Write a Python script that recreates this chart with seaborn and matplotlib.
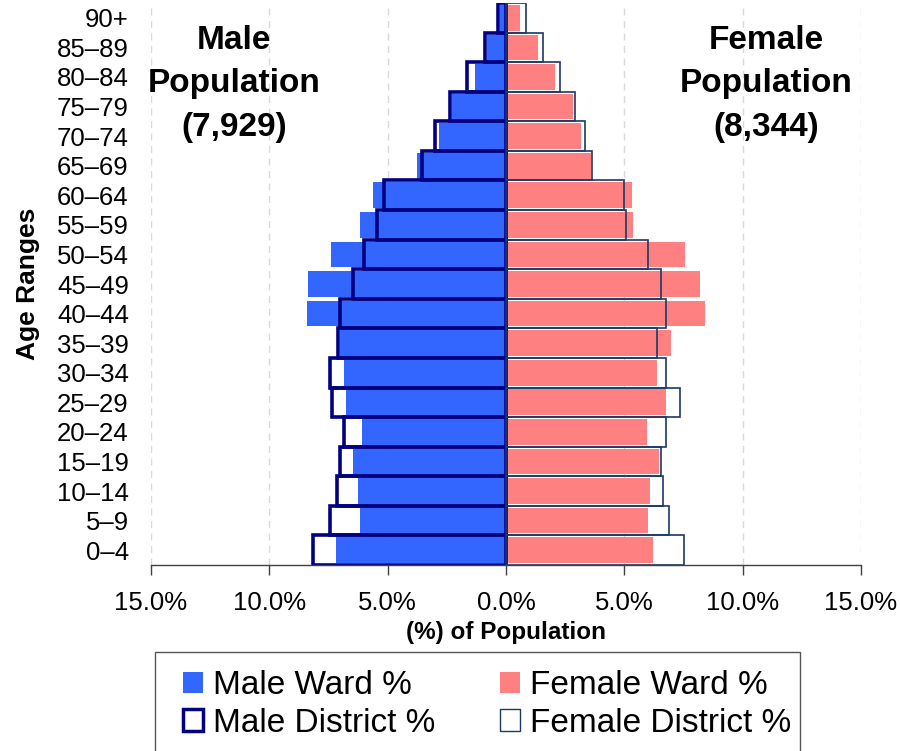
import numpy as np
import pandas as pd
import matplotlib
matplotlib.use('Agg')
import matplotlib.pyplot as plt
from matplotlib.patches import Patch, Rectangle
from matplotlib.ticker import FuncFormatter
import seaborn as sns

# age groups, youngest first
ages = ["0–4", "5–9", "10–14", "15–19", "20–24", "25–29", "30–34", "35–39",
        "40–44", "45–49", "50–54", "55–59", "60–64", "65–69", "70–74",
        "75–79", "80–84", "85–89", "90+"]

male_ward = [7.2, 6.15, 6.25, 6.45, 6.1, 6.75, 6.85, 7.0, 8.4, 8.35,
             7.4, 6.15, 5.6, 3.75, 2.85, 2.3, 1.3, 0.8, 0.25]
male_district = [8.15, 7.45, 7.15, 7.0, 6.85, 7.35, 7.45, 7.1, 7.0, 6.45,
                 6.0, 5.45, 5.15, 3.55, 3.0, 2.35, 1.65, 0.9, 0.35]
female_ward = [6.23, 6.02, 6.1, 6.48, 5.97, 6.78, 6.36, 6.99, 8.39, 8.18,
               7.58, 5.38, 5.34, 3.6, 3.18, 2.84, 2.08, 1.36, 0.59]
female_district = [7.5, 6.9, 6.65, 6.53, 6.74, 7.37, 6.74, 6.4, 6.78, 6.53,
                   6.02, 5.09, 5.0, 3.65, 3.35, 2.92, 2.29, 1.57, 0.85]

male_total = "7,929"
female_total = "8,344"
x_ticks = [-15, -10, -5, 0, 5, 10, 15]

df = pd.DataFrame({
    'age': ages,
    'male_ward': -np.array(male_ward),
    'male_district': -np.array(male_district),
    'female_ward': female_ward,
    'female_district': female_district,
})

sns.set_style('white')
plt.rcParams['font.family'] = ['Liberation Sans', 'DejaVu Sans']
plt.rcParams['text.color'] = 'black'
plt.rcParams['axes.labelcolor'] = 'black'
plt.rcParams['xtick.color'] = 'black'
plt.rcParams['ytick.color'] = 'black'

BLUE = '#3366FF'
PINK = '#FF8080'
NAVY = '#000080'
FEM_EDGE = '#1A3A66'

fig = plt.figure(figsize=(9, 7.51), dpi=100)
ax = fig.add_axes([151 / 900, 1 - 565 / 751, 710 / 900, 562 / 751])

order = ages[::-1]

# ward bars first, district outlines on top
sns.barplot(data=df, x='male_ward', y='age', order=order, orient='h',
            color=BLUE, saturation=1, width=0.87, errorbar=None,
            linewidth=0, ax=ax)
sns.barplot(data=df, x='female_ward', y='age', order=order, orient='h',
            color=PINK, saturation=1, width=0.87, errorbar=None,
            linewidth=0, ax=ax)
sns.barplot(data=df, x='male_district', y='age', order=order, orient='h',
            color=NAVY, saturation=1, width=1.0, errorbar=None,
            fill=False, linewidth=2.6, ax=ax)
sns.barplot(data=df, x='female_district', y='age', order=order, orient='h',
            color=FEM_EDGE, saturation=1, width=1.0, errorbar=None,
            fill=False, linewidth=1.2, ax=ax)

ax.set_xlim(-15, 15)
ax.set_ylim(18.5, -0.5)
ax.set_xticks(x_ticks)
ax.xaxis.set_major_formatter(FuncFormatter(lambda v, _: f"{abs(v):.1f}%"))

ax.grid(axis='x', color='#d9d9d9', linestyle=(0, (5, 4)), linewidth=1)
ax.set_axisbelow(True)
for s in ['top', 'right', 'left']:
    ax.spines[s].set_visible(False)
ax.spines['bottom'].set_color('#404040')
ax.spines['bottom'].set_linewidth(1)

ax.tick_params(axis='x', direction='out', length=7, width=1, color='#404040',
               labelcolor='black', labelsize=18.5, pad=12, bottom=True)
ax.tick_params(axis='y', length=0, labelcolor='black', labelsize=18.5, pad=16)

ax.set_xlabel('(%) of Population', fontsize=17.5, fontweight='bold')
ax.xaxis.set_label_coords(0.5, -0.1)
ax.set_ylabel('Age Ranges', fontsize=19, fontweight='bold')
ax.yaxis.set_label_coords(-0.156, 0.5)

ax.text(0.117, 0.856, f"Male\nPopulation\n({male_total})", transform=ax.transAxes,
        ha='center', va='center', fontsize=24, fontweight='bold', linespacing=1.52)
ax.text(0.866, 0.856, f"Female\nPopulation\n({female_total})", transform=ax.transAxes,
        ha='center', va='center', fontsize=24, fontweight='bold', linespacing=1.52)

# legend
handles = [
    Patch(facecolor=BLUE, edgecolor='none'),
    Patch(facecolor='white', edgecolor=NAVY, linewidth=2.5),
    Patch(facecolor=PINK, edgecolor='none'),
    Patch(facecolor='white', edgecolor=FEM_EDGE, linewidth=1),
]
labels = ['Male Ward %', 'Male District %', 'Female Ward %', 'Female District %']
fig.legend(handles, labels, ncol=2, loc='upper left',
           bbox_to_anchor=(183 / 900, 1 - 670 / 751), bbox_transform=fig.transFigure,
           frameon=False, fontsize=24, borderpad=0, borderaxespad=0,
           labelspacing=0.2, handlelength=0.6, handleheight=0.6,
           handletextpad=0.3, columnspacing=1.95)
fig.patches.append(Rectangle((155 / 900, -0.05), 645 / 900, 0.05 + 1 - 652 / 751,
                             transform=fig.transFigure, facecolor='none',
                             edgecolor='#555555', linewidth=1))

fig.savefig('out.png', dpi=100)
